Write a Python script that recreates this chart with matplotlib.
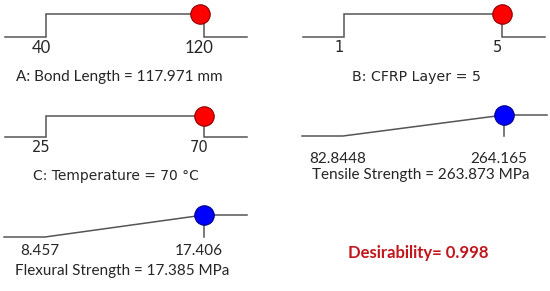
import matplotlib
matplotlib.use("Agg")
import matplotlib.pyplot as plt
import matplotlib.transforms as mtransforms

# ramp data
names = ["A: Bond Length", "B: CFRP Layer", "C: Temperature", "Tensile Strength", "Flexural Strength"]
lows = [40, 1, 25, 82.8448, 8.457]
highs = [120, 5, 70, 264.165, 17.406]
low_labels = ["40", "1", "25", "82.8448", "8.457"]
high_labels = ["120", "5", "70", "264.165", "17.406"]
solutions = [117.971, 5, 70, 263.873, 17.385]
solution_labels = ["117.971", "5", "70", "263.873", "17.385"]
units = ["mm", "", "°C", "MPa", "MPa"]
goals = ["range", "range", "range", "max", "max"]
desirability = 0.998

# layout in pixels (x of low end, x of high end, baseline y, top y, tick label y, title x, title y)
W, H = 550, 291
layout = [
    (46, 204, 37, 14, 48, 119, 77),
    (344, 502, 37, 14, 48, 417, 77),
    (46, 204, 137, 116, 148, 116, 176),
    (343, 504, 136, 115, 159, 421, 175),
    (45, 204, 237, 215, 251, 122, 271),
]
fonts = ["Lato", "DejaVu Sans", "DejaVu Sans", "Lato", "Lato"]
tick_sizes = [12, 10.5, 10.5, 11, 11]
title_sizes = [11, 10.2, 10, 11, 11]
dot_colors = ["#ff0000", "#ff0000", "#ff0000", "#0000ff", "#0000ff"]
dot_edges = ["#8b0000", "#8b0000", "#8b0000", "#00008b", "#00008b"]
line_col = "#555555"
text_col = "#262626"

fig = plt.figure(figsize=(W / 100, H / 100), dpi=100)

for i in range(len(names)):
    lp, hp, base, top, lab_y, tx, ty = layout[i]
    lo, hi = lows[i], highs[i]
    scale = (hi - lo) / (hp - lp)
    left_px, right_px = lp - 41, hp + 43
    ax = fig.add_axes([left_px / W, (H - base) / H, (right_px - left_px) / W, (base - top) / H])
    xmin = lo - 41 * scale
    xmax = hi + 43 * scale
    ax.set_xlim(xmin, xmax)
    ax.set_ylim(0, 1)
    ax.axis("off")

    if goals[i] == "range":
        # step shape, the drop at the high end doubles as the stem
        xs = [xmin, lo, lo, hi, hi, xmax]
        ys = [0, 0, 1, 1, 0, 0]
        d = 1.0 if lo <= solutions[i] <= hi else 0.0
    else:
        xs = [xmin, lo, hi, xmax]
        ys = [0, 0, 1, 1]
        d = min(max((solutions[i] - lo) / (hi - lo), 0), 1)
        ax.plot([solutions[i], solutions[i]], [0, d], color=line_col, lw=1.1, clip_on=False)
    ax.plot(xs, ys, color=line_col, lw=1.1, clip_on=False, solid_joinstyle="miter")
    ax.plot([solutions[i]], [d], "o", ms=14, mfc=dot_colors[i], mec=dot_edges[i],
            mew=0.8, clip_on=False, zorder=5)

    trans = mtransforms.offset_copy(ax.get_xaxis_transform(), fig=fig, x=-5, y=0, units="dots")
    ly = -(lab_y - base) / (base - top)
    ax.text(lo, ly, low_labels[i], transform=trans, ha="center", va="center",
            fontsize=tick_sizes[i], family=fonts[i], color=text_col)
    ax.text(hi, ly, high_labels[i], transform=trans, ha="center", va="center",
            fontsize=tick_sizes[i], family=fonts[i], color=text_col)

    title = names[i] + " = " + solution_labels[i]
    if units[i]:
        title += " " + units[i]
    fig.text(tx / W, 1 - ty / H, title, ha="center", va="center", fontsize=title_sizes[i],
             family=fonts[i], color=text_col)

fig.text(418 / W, 1 - 253 / H, "Desirability= %.3f" % desirability, ha="center", va="center",
         fontsize=12, family="Lato", fontweight="bold", color="#c0161c")

fig.savefig("out.png", dpi=100)
